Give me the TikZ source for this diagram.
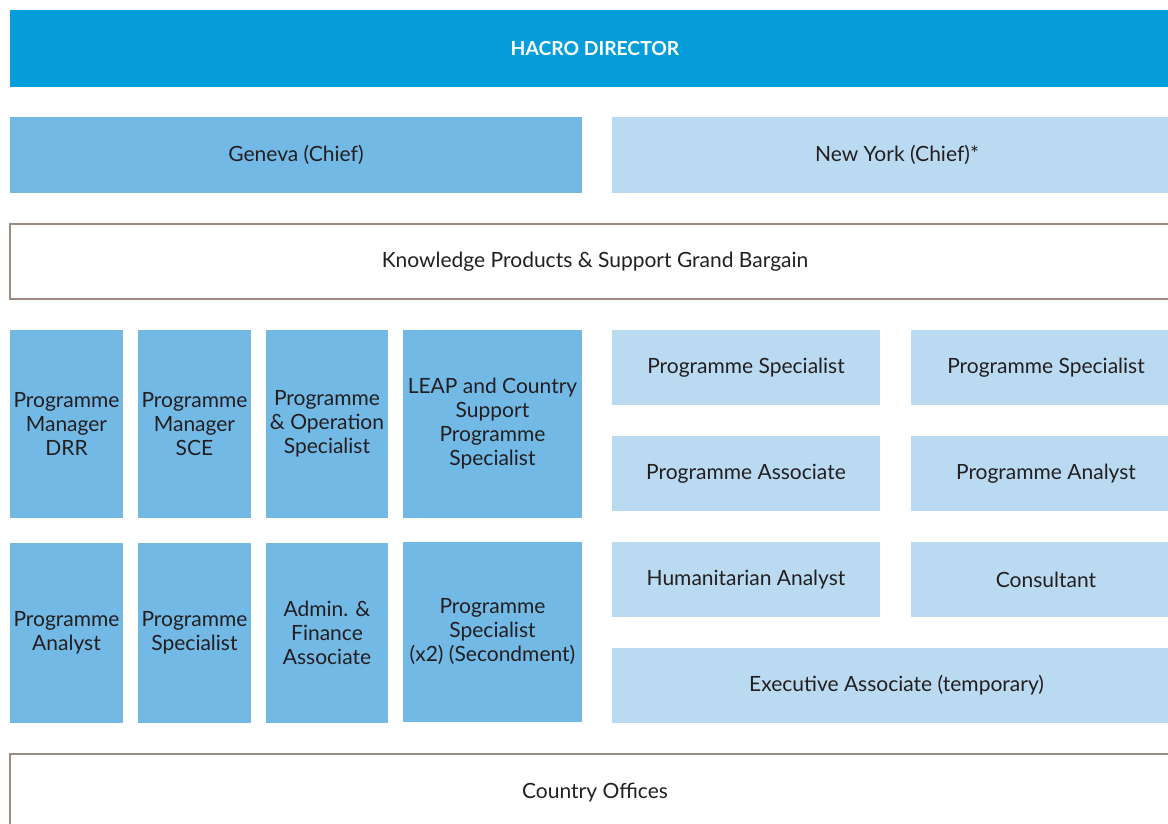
\documentclass[tikz,border=0pt]{standalone}
\usepackage{fontspec}
\setmainfont{Lato}
\definecolor{hacroblue}{HTML}{069DDB}
\definecolor{midblue}{HTML}{72B9E6}
\definecolor{lightblue}{HTML}{BADAF2}
\definecolor{rulebrown}{HTML}{9C8B80}
\definecolor{textgray}{HTML}{231F20}
\begin{document}
\begin{tikzpicture}[x = 1pt, y = -1pt,
	box/.style = {rectangle, anchor = north west, inner sep = 0pt, outer sep = 0pt,
		align = center, text = textgray, font = \fontsize{21}{24}\selectfont},
	topbox/.style = {box, fill = hacroblue, text = white, font = \fontsize{19.3}{24}\selectfont\bfseries},
	midbox/.style = {box, fill = midblue},
	lightbox/.style = {box, fill = lightblue},
	openbox/.style = {box, draw = rulebrown, line width = 1.2pt, fill = white}]
	\useasboundingbox (0,0) rectangle (1168,823);
	\clip (0,0) rectangle (1168,823);
	
	% top rows
	\node[topbox, minimum width = 1170pt, minimum height = 77pt] (director) at (10,10) {HACRO DIRECTOR};
	\node[midbox, minimum width = 572pt, minimum height = 76pt] (geneva) at (10,117) {Geneva (Chief)};
	\node[lightbox, minimum width = 570pt, minimum height = 76pt] (newyork) at (612,117) {New York (Chief)*};
	\node[openbox, minimum width = 1170pt, minimum height = 75pt] (knowledge) at (10,224) {Knowledge Products \& Support Grand Bargain};
	
	% Geneva staff
	\node[midbox, minimum width = 113pt, minimum height = 188pt] (pmdrr) at (10,330) {Programme\\Manager\\DRR};
	\node[midbox, minimum width = 113pt, minimum height = 188pt] (pmsce) at (138,330) {Programme\\Manager\\SCE};
	\node[midbox, minimum width = 122pt, minimum height = 188pt] (pos) at (266,330) {Programme\\\& Operation\\Specialist};
	\node[midbox, minimum width = 179pt, minimum height = 188pt] (leap) at (403,330) {LEAP and Country\\Support\\Programme\\Specialist};
	
	\node[midbox, minimum width = 113pt, minimum height = 180pt] (panalyst) at (10,543) {Programme\\Analyst};
	\node[midbox, minimum width = 113pt, minimum height = 180pt] (pspec) at (138,543) {Programme\\Specialist};
	\node[midbox, minimum width = 122pt, minimum height = 180pt] (admin) at (266,543) {Admin. \&\\Finance\\Associate};
	\node[midbox, minimum width = 179pt, minimum height = 180pt] (second) at (403,542) {Programme\\Specialist\\(x2) (Secondment)};
	
	% New York staff
	\node[lightbox, minimum width = 268pt, minimum height = 75pt] (nyspec1) at (612,330) {Programme Specialist};
	\node[lightbox, minimum width = 270pt, minimum height = 75pt] (nyspec2) at (911,330) {Programme Specialist};
	\node[lightbox, minimum width = 268pt, minimum height = 75pt] (nyassoc) at (612,436) {Programme Associate};
	\node[lightbox, minimum width = 270pt, minimum height = 75pt] (nyanalyst) at (911,436) {Programme Analyst};
	\node[lightbox, minimum width = 268pt, minimum height = 75pt] (humanalyst) at (612,542) {Humanitarian Analyst};
	\node[lightbox, minimum width = 270pt, minimum height = 75pt] (consultant) at (911,542) {Consultant};
	\node[lightbox, minimum width = 569pt, minimum height = 75pt] (exec) at (612,648) {Executive Associate (temporary)};
	
	% bottom row
	\node[openbox, minimum width = 1170pt, minimum height = 78pt] (country) at (10,754) {Country Offices};
	
\end{tikzpicture}
\end{document}
